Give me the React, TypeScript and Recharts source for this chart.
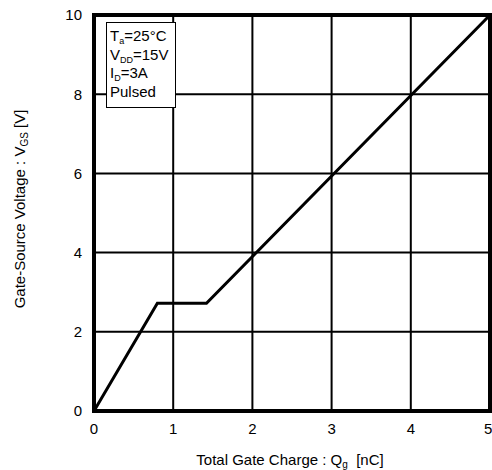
import { LineChart, Line, XAxis, YAxis, CartesianGrid, ReferenceArea, Label } from 'recharts';

// Gate charge curve: Qg [nC] vs VGS [V]
const chargeNc = [0, 0.8, 1.42, 5];
const gateVolts = [0, 2.72, 2.72, 10];

const xTicks = [0, 1, 2, 3, 4, 5];
const yTicks = [0, 2, 4, 6, 8, 10];

const conditions = [
    { main: 'T', sub: 'a', rest: '=25°C' },
    { main: 'V', sub: 'DD', rest: '=15V' },
    { main: 'I', sub: 'D', rest: '=3A' },
    { main: 'Pulsed', sub: '', rest: '' },
];

const data = chargeNc.map((q, i) => ({ q, v: gateVolts[i] }));

const font = '"Liberation Sans", Arial, sans-serif';

function ConditionsBox() {
    return (
        <div
            style={{
                position: 'absolute',
                left: 106,
                top: 22,
                border: '1px solid #000',
                background: '#fff',
                width: 65,
                height: 80,
                padding: '4px 0 0 3px',
                fontFamily: font,
                fontSize: 15,
                lineHeight: '18.7px',
                color: '#000',
                whiteSpace: 'nowrap',
            }}
        >
            {conditions.map((c) => (
                <div key={c.main} style={{ height: 18.7 }}>
                    {c.main}
                    {c.sub && (
                        <span style={{ fontSize: 9, position: 'relative', top: 3, lineHeight: 0 }}>{c.sub}</span>
                    )}
                    {c.rest}
                </div>
            ))}
        </div>
    );
}

export default function App() {
    return (
        <div style={{ position: 'absolute', left: 0, top: 0, width: 492, height: 470 }}>
            <LineChart width={492} height={470} data={data} margin={{ top: 15, right: 2, bottom: 0, left: 0 }}>
                <CartesianGrid stroke="#000" strokeWidth={2} />
                <XAxis
                    dataKey="q"
                    type="number"
                    domain={[0, 5]}
                    ticks={xTicks}
                    height={59}
                    axisLine={false}
                    tickLine={false}
                    tickSize={0}
                    tickMargin={12}
                    tick={{ fill: '#000', fontSize: 15, fontFamily: font }}
                >
                    <Label
                        content={() => (
                            <text x={290} y={465} textAnchor="middle" fontFamily={font} fontSize={15} fill="#000">
                                Total Gate Charge : Q
                                <tspan fontSize={10} dy={3}>g</tspan>
                                <tspan dy={-3}>{'\u00a0\u00a0[nC]'}</tspan>
                            </text>
                        )}
                    />
                </XAxis>
                <YAxis
                    type="number"
                    domain={[0, 10]}
                    ticks={yTicks}
                    width={94}
                    axisLine={false}
                    tickLine={false}
                    tickSize={0}
                    tickMargin={12}
                    tick={{ fill: '#000', fontSize: 15, fontFamily: font }}
                >
                    <Label
                        content={() => (
                            <text
                                x={25}
                                y={209}
                                textAnchor="middle"
                                transform="rotate(-90 25 209)"
                                fontFamily={font}
                                fontSize={15}
                                fill="#000"
                            >
                                Gate-Source Voltage : V
                                <tspan fontSize={10} dy={3}>GS</tspan>
                                <tspan dy={-3}>{'\u00a0[V]'}</tspan>
                            </text>
                        )}
                    />
                </YAxis>
                <ReferenceArea x1={0} x2={5} y1={0} y2={10} fill="none" stroke="#000" strokeWidth={4} />
                <Line
                    dataKey="v"
                    type="linear"
                    stroke="#000"
                    strokeWidth={3}
                    dot={false}
                    isAnimationActive={false}
                />
            </LineChart>
            <ConditionsBox />
        </div>
    );
}
